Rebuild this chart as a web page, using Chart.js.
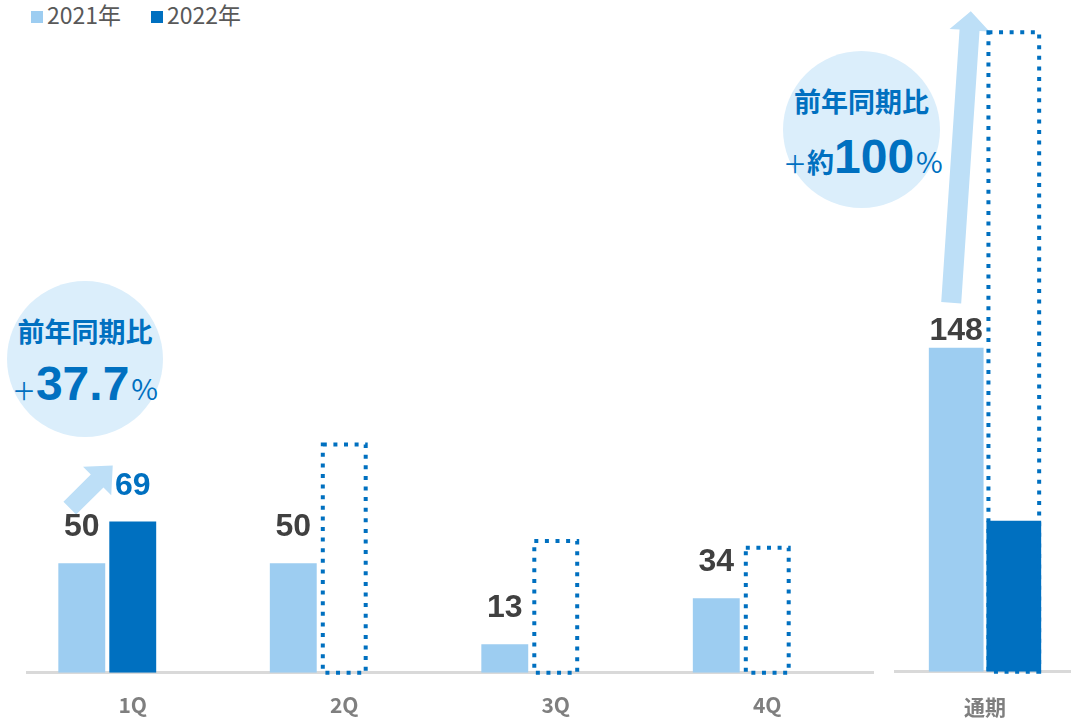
<!DOCTYPE html>
<html><head><meta charset="utf-8">
<script src="https://cdn.jsdelivr.net/npm/chart.js@4/dist/chart.umd.min.js"></script>
<style>
html,body{margin:0;padding:0;background:#fff}
body{width:1071px;height:721px;overflow:hidden;position:relative;font-family:"Noto Sans CJK JP","Noto Sans",sans-serif}
canvas{position:absolute;top:0}
#c1{left:0}
#c2{left:885px}
.bubble{position:absolute;border-radius:50%;background:#DBEEFB;color:#0070C0}
.bubble .l1{position:absolute;left:0;width:100%;text-align:center;font-weight:bold;font-size:27px;line-height:27px}
.bubble .l2{position:absolute;left:0;width:100%;text-align:center;white-space:nowrap;line-height:50px}
.bubble .pl{font-family:"Noto Sans CJK JP";font-size:24px;font-weight:normal}
.bubble .pc{font-family:"Noto Sans CJK JP";font-size:29px;font-weight:normal;margin-left:2px}
.bubble .cj{font-size:27px;font-weight:bold}
.bubble .big{font-family:"Liberation Sans",Arial,sans-serif;font-size:48px;font-weight:bold}
.legend{position:absolute;top:0;font-size:23px;color:#595959;line-height:28px;white-space:nowrap}
.legend i{display:inline-block;width:12px;height:12px;margin-right:4px;vertical-align:1px}
</style>
</head>
<body>
<div class="legend" style="left:31px"><i style="background:#9DCDF1"></i>2021年</div>
<div class="legend" style="left:151px"><i style="background:#0070C0"></i>2022年</div>

<div class="bubble" style="left:7px;top:281px;width:156px;height:156px">
  <div class="l1" style="top:36px">前年同期比</div>
  <div class="l2" style="top:78px"><span class="pl">＋</span><span class="big">37.7</span><span class="pc">%</span></div>
</div>
<div class="bubble" style="left:783px;top:51px;width:157px;height:157px">
  <div class="l1" style="top:36px">前年同期比</div>
  <div class="l2" style="top:81px"><span class="pl">＋</span><span class="cj">約</span><span class="big">100</span><span class="pc">%</span></div>
</div>

<canvas id="c1" width="885" height="743"></canvas>
<canvas id="c2" width="190" height="748"></canvas>

<script>
// ---- data ----
const quarters = ['1Q', '2Q', '3Q', '4Q'];
const annualCategory = ['通期'];
const sales2021 = [50, 50, 13, 34];
const sales2022Actual = [69, null, null, null];
const sales2022Forecast = [null, 105, 61, 58];
const annual2021 = [148];
const annual2022Actual = [69];
const annual2022Forecast = [293];
const seriesNames = ['2021年', '2022年'];
const yMin = 0;
const yMax = 300;

const LIGHT = '#9DCDF1';
const DARK = '#0070C0';
const ARROW = '#BDDFF7';

function drawArrow(ctx, x0, y0, x1, y1, hw, hhw, hl, color) {
  const dx = x1 - x0, dy = y1 - y0, L = Math.hypot(dx, dy);
  const ux = dx / L, uy = dy / L, nx = -uy, ny = ux;
  const bx = x1 - ux * hl, by = y1 - uy * hl;
  ctx.save();
  ctx.fillStyle = color;
  ctx.beginPath();
  ctx.moveTo(x0 + nx * hw, y0 + ny * hw);
  ctx.lineTo(bx + nx * hw, by + ny * hw);
  ctx.lineTo(bx + nx * hhw, by + ny * hhw);
  ctx.lineTo(x1, y1);
  ctx.lineTo(bx - nx * hhw, by - ny * hhw);
  ctx.lineTo(bx - nx * hw, by - ny * hw);
  ctx.lineTo(x0 - nx * hw, y0 - ny * hw);
  ctx.closePath();
  ctx.fill();
  ctx.restore();
}

const decoPlugin = {
  id: 'deco',
  beforeDatasetsDraw(chart, args, opts) {
    if (opts.arrow) opts.arrow(chart);
  },
  afterDatasetsDraw(chart) {
    const ctx = chart.ctx;
    chart.data.datasets.forEach((ds, i) => {
      const meta = chart.getDatasetMeta(i);
      meta.data.forEach((el, j) => {
        const v = ds.data[j];
        if (v == null) return;
        const p = el.getProps(['x', 'y', 'base', 'width'], true);
        if (ds.forecast) {
          const lw = 4;
          ctx.save();
          ctx.strokeStyle = DARK;
          ctx.lineWidth = lw;
          ctx.setLineDash([4, 6.6]);
          ctx.strokeRect(p.x - p.width / 2 + lw / 2, p.y + lw / 2, p.width - lw, p.base - p.y - lw / 2);
          ctx.restore();
        }
        if (ds.labelColor) {
          ctx.save();
          ctx.font = 'bold 32px "Liberation Sans", Arial, sans-serif';
          ctx.fillStyle = ds.labelColor;
          ctx.textAlign = 'center';
          ctx.textBaseline = 'alphabetic';
          ctx.fillText(String(v), p.x, p.y - ds.labelGap);
          ctx.restore();
        }
      });
    });
  }
};

function makeOptions(arrowFn, padLeft, padRight, tickPad) {
  return {
    responsive: false,
    animation: false,
    layout: { padding: { left: padLeft, right: padRight, top: 15, bottom: 5 } },
    plugins: {
      legend: { display: false },
      tooltip: { enabled: false },
      deco: { arrow: arrowFn }
    },
    scales: {
      x: {
        stacked: true,
        grid: { display: false, drawTicks: false },
        border: { display: true, color: '#D9D9D9', width: 3 },
        ticks: { color: '#7F7F7F', padding: tickPad, font: { family: '"Noto Sans CJK JP", sans-serif', size: 21, weight: 'bold' } }
      },
      y: { stacked: false, display: false, min: yMin, max: yMax }
    }
  };
}

new Chart(document.getElementById('c1'), {
  type: 'bar',
  data: {
    labels: quarters,
    datasets: [
      { label: seriesNames[0], data: sales2021, backgroundColor: LIGHT, stack: 's1', categoryPercentage: 0.723, barPercentage: 0.92, labelColor: '#404040', labelGap: 27 },
      { label: seriesNames[1], data: sales2022Actual, backgroundColor: DARK, stack: 's2', categoryPercentage: 0.723, barPercentage: 0.92, labelColor: DARK, labelGap: 27 },
      { label: seriesNames[1] + '予想', data: sales2022Forecast, backgroundColor: 'rgba(0,0,0,0)', stack: 's2', forecast: true, categoryPercentage: 0.723, barPercentage: 0.92 },
      { label: '', data: [null, null, null, null], backgroundColor: 'rgba(0,0,0,0)', stack: 's3', categoryPercentage: 0.723, barPercentage: 0.92 }
    ]
  },
  options: makeOptions(function (chart) {
    const a = chart.getDatasetMeta(0).data[0];
    const b = chart.getDatasetMeta(1).data[0];
    drawArrow(chart.ctx, a.x - 12, a.y - 55, b.x - 20, b.y - 56, 9, 20, 22, ARROW);
  }, 27, 12, 20),
  plugins: [decoPlugin]
});

new Chart(document.getElementById('c2'), {
  type: 'bar',
  data: {
    labels: annualCategory,
    datasets: [
      { label: seriesNames[0], data: annual2021, backgroundColor: LIGHT, stack: 's1', categoryPercentage: 0.64, barPercentage: 0.95, labelColor: '#404040', labelGap: 8 },
      { label: seriesNames[1], data: annual2022Actual, backgroundColor: DARK, stack: 's2', categoryPercentage: 0.64, barPercentage: 0.95 },
      { label: seriesNames[1] + '予想', data: annual2022Forecast, backgroundColor: 'rgba(0,0,0,0)', stack: 's2', forecast: true, categoryPercentage: 0.64, barPercentage: 0.95 }
    ]
  },
  options: makeOptions(function (chart) {
    const a = chart.getDatasetMeta(0).data[0];
    const f = chart.getDatasetMeta(2).data[0];
    drawArrow(chart.ctx, a.x - 5, a.y - 45, f.x - 43, f.y - 19, 10, 20, 19, ARROW);
  }, 10, 0, 23),
  plugins: [decoPlugin]
});
</script>
</body></html>
